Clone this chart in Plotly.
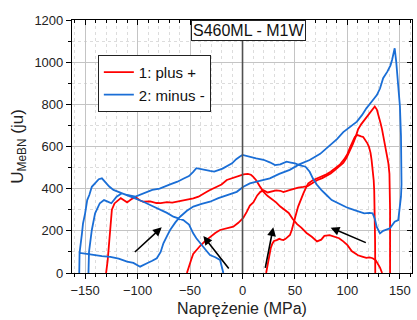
import plotly.graph_objects as go

FONT = "Arial, Liberation Sans, sans-serif"

# 1: plus +  (three branches, None separates them)
red_x = [-130, -128.5, -127, -126, -124.5, -122, -120, -116, -113, -110, -106, -102, -98, -94.5, -88, -82, -78, -72, -67, -62.7, -58, -54, -50, -46.9, -42, -38, -34, -31, -26, -20, -15, -10, -6, -2, 1, 5, 8, 10, 13, 16, 20, 24, 28, 32, 36, 40, 44, 48, 52, 56, 61, 66, 71, 75, 78, 83, 88, 92, 96, 100, 104, 107, 110, 114, 118, 121, 124, 127, 129, 131, 133,
         None,
         -53, -51, -49, -47, -44, -40.5, -36, -31, -26, -21.4, -15, -8.8, -4, 0.8, 4, 7, 10.3, 14, 17, 20, 24, 28, 32, 36, 39, 44, 48.4, 53, 58, 62, 66, 71, 76, 80, 84, 88, 92, 96, 99, 102, 105, 108, 110, 113, 116, 119, 122, 124, 126, 128, 130, 131.5, 133, 134.5, 136, 137.5, 139, 140, 140.5, 140.6, 140.6, 140.6,
         None,
         22.5, 24, 25.5, 27, 28.5, 30, 32.6, 35, 37, 39, 41, 43, 45.2, 47, 48.4, 50.5, 53, 55.5, 58, 60.5, 62.7, 67, 71, 75, 80, 84, 88, 93, 97, 100, 102.4, 105, 107, 109, 111, 113, 115, 117, 119, 120.5, 122, 123, 124, 125, 125.5, 126, 126.3, 126.5]
red_y = [0, 60, 150, 230, 300, 330, 340, 355, 345, 335, 350, 360, 345, 338, 340, 332, 331, 336, 334, 338, 342, 344, 348, 354, 362, 372, 385, 394, 405, 420, 441, 450, 455, 462, 468, 470, 466, 457, 440, 415, 385, 365, 350, 335, 315, 300, 285, 255, 232, 215, 190, 172, 150, 158, 176, 180, 172, 165, 150, 132, 104, 92, 84, 78, 72, 74, 70, 60, 46, 26, 0,
         None,
         0, 35, 62, 90, 110, 128, 150, 172, 190, 204, 212, 220, 238, 262, 290, 320, 335, 368, 385, 392, 382, 388, 392, 390, 384, 392, 398, 405, 408, 412, 424, 440, 450, 460, 472, 488, 505, 522, 545, 575, 610, 648, 680, 705, 725, 745, 765, 780, 790, 775, 745, 712, 680, 640, 600, 560, 520, 470, 400, 300, 150, 0,
         None,
         0, 45, 85, 120, 140, 152, 156, 162, 158, 156, 162, 170, 180, 205, 236, 270, 315, 350, 378, 405, 425, 440, 448, 456, 468, 480, 495, 515, 540, 565, 595, 625, 645, 655, 650, 648, 645, 632, 615, 598, 570, 535, 495, 440, 390, 300, 160, 0]

# 2: minus -
blue_x = [-18.3, -20, -21.4, -26, -31, -36, -40.5, -44, -47, -51, -56.4, -61, -65.9, -72, -78.6, -86, -94.5, -102, -110, -116, -120, -123, -127, -131, -134, -137, -139, -141, -143.6, -146, -148, -150, -152, -153, -154.5, -155.3, -155.6, -155.3, -150, -142, -134, -126, -118, -110, -104, -97.6, -94, -91, -86, -81.7, -78, -75.4, -72, -69, -64, -59.5, -53, -46.9, -39, -31, -23, -15, -5.5, 0.8, 7, 13.5, 20, 26, 35, 45, 54, 64, 74, 83, 90, 96, 103, 109, 114, 118, 123, 128, 131, 134, 138, 141, 142.5, 144, 145, 146.5, 148, 149, 150, 151, 151.5, 151.5, 151, 150, 148.4, 145, 140.5, 134, 131, 127.8, 126.2, 124, 121, 116, 112, 106, 99, 94, 90, 85, 80, 75, 70.7, 67, 64, 60, 55, 50, 46, 42, 36, 31, 26, 20, 13, 7, 3, 0, -2.4, -6, -10, -15, -19, -23, -27, -31, -36, -41, -44, -47, -51, -56, -62, -69, -74, -79, -86, -94.5, -102, -110, -115, -120, -125, -129, -132, -136, -140.5, -143.6, -146.3, -146.8, -147]
blue_y = [0, 35, 62, 75, 85, 115, 141, 165, 188, 230, 251, 258, 267, 285, 299, 318, 338, 352, 368, 380, 388, 394, 410, 435, 449, 445, 433, 420, 409, 370, 346, 283, 235, 188, 120, 95, 0, 95, 92, 85, 80, 77, 68, 54, 48, 30, 40, 46, 58, 70, 100, 141, 175, 204, 240, 267, 295, 315, 328, 338, 355, 370, 385, 409, 425, 433, 440, 449, 470, 489, 515, 536, 565, 607, 635, 668, 695, 718, 750, 781, 812, 844, 875, 924, 955, 985, 1010, 1040, 1066, 1000, 916, 860, 790, 650, 550, 420, 362, 315, 251, 243, 212, 200, 188, 220, 255, 283, 285, 283, 288, 299, 312, 323, 335, 346, 370, 394, 420, 449, 480, 504, 510, 520, 524, 528, 515, 512, 525, 537, 544, 550, 555, 560, 552, 540, 520, 505, 495, 488, 481, 484, 490, 495, 497, 480, 460, 448, 433, 420, 409, 400, 394, 378, 362, 370, 378, 362, 331, 340, 346, 331, 283, 204, 100, 0]

# arrows: (tail x, tail y, head x, head y)
arrow_tail_x = [-104, -12, 21.4, 118.9]
arrow_tail_y = [93, 14, 17.5, 141]
arrow_head_x = [-77, -37.3, 29.3, 84]
arrow_head_y = [217, 175, 217, 215]

x_range = [-162.5, 161.5]
y_range = [0, 1200]

fig = go.Figure()

fig.add_trace(
    go.Scatter(
        x=red_x,
        y=red_y,
        mode="lines",
        name="1: plus +",
        line=dict(color="#ff0000", width=1.8)
    )
)
fig.add_trace(
    go.Scatter(
        x=blue_x,
        y=blue_y,
        mode="lines",
        name="2: minus -",
        line=dict(color="#1a6ed6", width=1.8)
    )
)
# 위/오른쪽 눈금용 빈 축
fig.add_trace(
    go.Scatter(
        x=[],
        y=[],
        xaxis="x2",
        yaxis="y2",
        showlegend=False,
        hoverinfo="skip"
    )
)

# 0 기준선
fig.add_shape(
    type="line",
    xref="x",
    yref="paper",
    x0=0,
    x1=0,
    y0=0,
    y1=1,
    line=dict(color="#505050", width=1.6),
    layer="above"
)

for tx, ty, hx, hy in zip(arrow_tail_x, arrow_tail_y, arrow_head_x, arrow_head_y):
    fig.add_annotation(
        x=hx,
        y=hy,
        ax=tx,
        ay=ty,
        xref="x",
        yref="y",
        axref="x",
        ayref="y",
        text="",
        showarrow=True,
        arrowhead=2,
        arrowsize=1.1,
        arrowwidth=1.6,
        arrowcolor="black"
    )

fig.add_annotation(
    text="S460ML - M1W",
    xref="paper",
    yref="paper",
    x=0.518,
    y=1,
    xanchor="center",
    yanchor="top",
    showarrow=False,
    font=dict(size=16, color="#111"),
    bordercolor="#222",
    borderwidth=1,
    borderpad=1,
    bgcolor="white"
)

axis_common = dict(
    showline=True,
    linecolor="black",
    linewidth=1.2,
    zeroline=False,
    tickcolor="black",
    tickwidth=1,
)

fig.update_layout(
    width=417,
    height=320,
    margin=dict(l=72, r=5, t=20, b=47),
    paper_bgcolor="white",
    plot_bgcolor="white",
    font=dict(family=FONT, size=13, color="#222"),
    showlegend=True,
    legend=dict(
        x=0.076,
        y=0.862,
        xanchor="left",
        yanchor="top",
        bordercolor="#222",
        borderwidth=1,
        bgcolor="white",
        font=dict(size=15, color="#111"),
        tracegroupgap=0
    ),
    xaxis=dict(
        range=x_range,
        tick0=0,
        dtick=50,
        ticks="outside",
        ticklen=5,
        showgrid=True,
        gridcolor="#c4c4c4",
        gridwidth=1,
        minor=dict(dtick=10, tick0=0, ticks="outside", ticklen=3, showgrid=True,
                   gridcolor="#dcdcdc", griddash="dot"),
        title=dict(text="Naprężenie (MPa)", font=dict(size=16), standoff=6),
        **axis_common
    ),
    yaxis=dict(
        range=y_range,
        tick0=0,
        dtick=200,
        ticks="outside",
        ticklen=5,
        showgrid=True,
        gridcolor="#c4c4c4",
        gridwidth=1,
        minor=dict(dtick=100, tick0=0, ticks="outside", ticklen=3, showgrid=True,
                   gridcolor="#dcdcdc", griddash="dot"),
        title=dict(text="U<sub>MeBN</sub> (ju)", font=dict(size=17), standoff=6),
        **axis_common
    ),
    xaxis2=dict(
        range=x_range,
        overlaying="x",
        side="top",
        anchor="y2",
        tick0=0,
        dtick=50,
        ticks="inside",
        ticklen=5,
        showticklabels=False,
        showgrid=False,
        minor=dict(dtick=10, tick0=0, ticks="inside", ticklen=3),
        **axis_common
    ),
    yaxis2=dict(
        range=y_range,
        overlaying="y",
        side="right",
        anchor="x2",
        tick0=0,
        dtick=200,
        ticks="inside",
        ticklen=5,
        showticklabels=False,
        showgrid=False,
        minor=dict(dtick=100, tick0=0, ticks="inside", ticklen=3),
        **axis_common
    )
)

# body 기본 여백 제거, 툴바 숨김
fig.write_html(
    "out.html",
    config={"displayModeBar": False},
    post_script="document.body.style.margin='0';"
)
